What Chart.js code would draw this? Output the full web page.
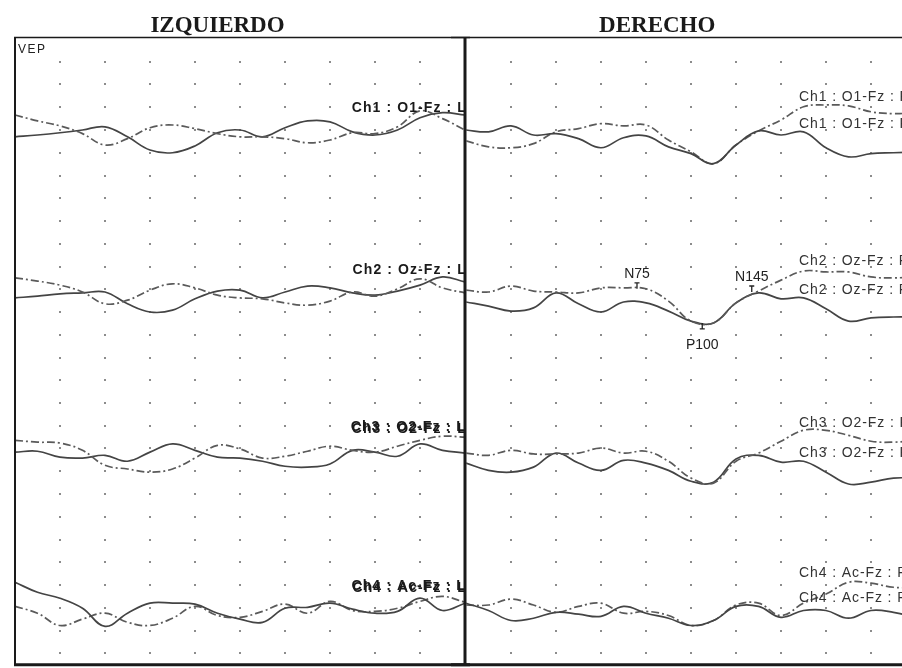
<!DOCTYPE html>
<html>
<head>
<meta charset="utf-8">
<script src="https://cdn.jsdelivr.net/npm/chart.js@4.4.1/dist/chart.umd.min.js"></script>
<style>
  html, body { margin: 0; padding: 0; background: #fff; overflow: hidden; width: 902px; height: 668px; }
  canvas { position: absolute; top: 0; }
  #izq { left: 0; }
  #der { left: 451px; }
</style>
</head>
<body>
<canvas id="izq" width="470" height="680"></canvas>
<canvas id="der" width="480" height="680"></canvas>
<script>
// tiempo en ms, amplitudes en uV (5 uV por division)
const tiempo = [0, 10, 20, 30, 40, 50, 60, 70, 80, 90, 100, 110, 120, 130, 140, 150, 160, 170, 180, 190, 200];

const izq1a = [3.3, 2.0, 0.9, -0.8, -3.3, -1.9, 0.5, 1.1, 0.3, -0.8, -1.5, -1.5, -1.9, -2.8, -2.2, -0.6, -0.8, 0.7, 4.2, 2.5, 0.0];
const izq1b = [-1.5, -1.1, -0.6, 0.0, 0.7, -1.5, -4.4, -5.0, -3.5, -0.6, 0.0, -1.5, 0.5, 2.0, 1.8, -0.4, -1.1, 0.0, 2.7, 3.8, 3.3];
const izq2a = [2.5, 1.8, 0.9, -0.6, -3.2, -2.4, -0.2, 1.2, 0.3, -1.3, -1.9, -2.1, -3.0, -3.5, -2.6, -0.6, -1.5, 0.1, 2.3, 0.3, -0.8];
const izq2b = [-1.9, -1.5, -1.0, -0.8, -0.6, -3.2, -5.0, -4.6, -2.1, -0.4, -0.2, -1.9, -0.6, 0.7, 0.3, -0.8, -1.3, -0.4, 0.9, 2.7, 1.6];
const izq3a = [1.8, 1.4, 1.2, -0.4, -3.7, -4.5, -5.2, -4.5, -2.1, 0.7, -0.1, -2.1, -1.7, -0.6, 0.5, -0.4, -0.8, 0.5, 1.8, 2.7, 2.5];
const izq3b = [-0.8, -0.6, -1.9, -2.1, -1.5, -2.8, -0.8, 1.0, -0.4, -1.9, -2.1, -2.8, -3.9, -4.1, -3.4, -0.4, -0.8, -1.7, 1.0, -0.4, -1.0];
const izq4a = [5.6, 3.4, 2.1, -0.1, -4.1, -1.2, 1.0, 1.0, 0.8, -1.2, -2.5, -3.2, -0.1, 0.1, 1.0, -0.3, -1.2, -0.8, 2.1, -0.6, 1.0];
const izq4b = [0.3, -1.2, -3.9, -2.5, -1.2, -3.2, -3.9, -2.3, 0.3, -1.7, -2.1, -0.8, 0.8, -1.2, 1.4, -0.6, -0.8, -0.1, 1.4, 2.5, 1.2];

const der1a = [0.0, -0.4, 0.9, -1.1, -0.8, -1.9, -3.9, -1.7, -1.3, -3.7, -5.2, -7.4, -3.3, -0.2, -1.1, -0.4, -3.9, -5.9, -5.2, -5.0, -4.8];
const der1b = [-2.4, -3.7, -3.9, -3.0, -0.4, 0.3, 1.4, 0.9, 1.1, -2.2, -4.8, -7.4, -3.3, -0.2, 2.2, 5.1, 5.5, 5.3, 4.0, 3.6, 3.8];
const der2a = [-0.2, -0.6, 0.7, -0.4, -0.6, -0.8, 0.3, 0.3, 0.1, -2.6, -7.0, -7.4, -3.0, -0.4, 2.0, 4.0, 3.8, 3.8, 2.7, 2.5, 2.7];
const der2b = [-2.8, -3.7, -4.8, -4.1, -0.8, -3.2, -5.0, -2.8, -3.0, -4.8, -7.0, -7.4, -3.0, -0.8, -2.1, -1.9, -4.3, -7.0, -6.3, -6.1, -6.1];
const der3a = [-1.0, -1.5, -0.4, -1.2, -1.2, -1.0, 0.1, -1.0, -0.6, -2.8, -6.5, -7.6, -2.8, -1.0, 1.6, 4.0, 4.0, 2.9, 1.6, 1.4, 1.8];
const der3b = [-3.2, -4.8, -5.2, -4.1, -1.0, -3.2, -4.8, -2.6, -3.2, -4.8, -7.2, -7.4, -2.3, -1.5, -3.0, -2.8, -5.2, -7.8, -7.4, -6.5, -6.5];
const der4a = [1.0, -0.6, -2.8, -2.3, -1.0, -1.4, -1.9, 0.3, -1.2, -2.3, -3.9, -2.8, 0.3, 0.3, -2.1, -0.6, -0.6, -2.3, -0.6, -1.0, -2.1];
const der4b = [0.6, 0.6, 1.9, 0.6, -1.0, 0.3, 1.0, -1.2, -0.8, -1.7, -3.9, -2.8, 0.6, 1.0, -1.7, 1.0, 3.0, 5.6, 5.4, 4.5, 4.5];

const canalesIzq = ['Ch1 : O1-Fz : L', 'Ch2 : Oz-Fz : L', 'Ch3 : O2-Fz : L', 'Ch4 : Ac-Fz : L'];
const canalesDer = ['Ch1 : O1-Fz : R', 'Ch2 : Oz-Fz : R', 'Ch3 : O2-Fz : R', 'Ch4 : Ac-Fz : R'];

const picos = ['N75', 'P100', 'N145'];
const latPicos = [76, 105, 127];
const ampPicos = [0.1, -7.4, -0.6];

const UV_DIV = 5;
const BASES = [24, 17, 10, 3];   // fila de cada canal (28 filas en total)

function traza(vals, canal, punteada) {
  return {
    data: vals.map((v, i) => ({ x: tiempo[i], y: BASES[canal] + v / UV_DIV })),
    borderColor: punteada ? '#5a5a5a' : '#444',
    borderWidth: 1.7,
    borderDash: punteada ? [8, 3, 2, 3] : [],
    pointRadius: 0,
    tension: 0.4,
    fill: false
  };
}

const rejilla = {
  id: 'rejilla',
  beforeDatasetsDraw(chart) {
    const { ctx, scales: { x, y } } = chart;
    ctx.save();
    ctx.fillStyle = '#8c8c8c';
    for (let t = 20; t < 200; t += 20) {
      for (let f = 1; f < 28; f++) {
        ctx.fillRect(Math.round(x.getPixelForValue(t)) - 1, Math.round(y.getPixelForValue(f)) - 1, 2, 2);
      }
    }
    ctx.restore();
  }
};

const marco = {
  id: 'marco',
  afterDraw(chart, args, o) {
    const { ctx, chartArea: a, scales: { x, y } } = chart;
    const w = chart.width;
    const abajo = y.getPixelForValue(0.5);
    ctx.save();
    ctx.fillStyle = '#1a1a1a';
    ctx.textBaseline = 'alphabetic';

    // titulo
    ctx.font = 'bold 23px "Liberation Serif", serif';
    ctx.textAlign = 'center';
    ctx.fillText(o.titulo, x.getPixelForValue(o.tituloT), 32);

    // etiquetas de canal
    o.etiquetas.forEach(e => {
      ctx.font = (e.negrita ? 'bold ' : '') + '14px "Liberation Sans", Arial, sans-serif';
      ctx.letterSpacing = e.negrita ? '1.1px' : '0.9px';
      ctx.textAlign = e.derecha ? 'right' : 'left';
      const px = e.derecha ? a.right + 2 : x.getPixelForValue(e.t);
      const py = y.getPixelForValue(e.fila);
      ctx.fillStyle = e.negrita ? '#1a1a1a' : '#333';
      ctx.fillText(e.texto, px, py);
      if (e.doble) ctx.fillText(e.texto, px - 1, py - 2);
    });
    ctx.letterSpacing = '0px';

    // picos
    (o.picos || []).forEach(p => {
      const px = x.getPixelForValue(p.t);
      const py = y.getPixelForValue(p.fila);
      ctx.strokeStyle = '#222';
      ctx.lineWidth = 1.3;
      ctx.font = '14px "Liberation Sans", Arial, sans-serif';
      ctx.textAlign = 'center';
      ctx.fillStyle = '#222';
      const s = p.positivo ? 1 : -1;
      ctx.beginPath();
      ctx.moveTo(px, py);
      ctx.lineTo(px, py + s * 6);
      ctx.moveTo(px - 2.5, py + s * 6);
      ctx.lineTo(px + 2.5, py + s * 6);
      ctx.stroke();
      ctx.fillText(p.texto, px, p.positivo ? py + 26 : py - 11);
    });

    // marco
    ctx.strokeStyle = '#1a1a1a';
    ctx.lineWidth = 1.6;
    ctx.beginPath();
    ctx.moveTo(o.izquierda ? a.left - 1 : 0, 37.5);
    ctx.lineTo(w, 37.5);
    ctx.stroke();
    ctx.lineWidth = 3;
    ctx.beginPath();
    ctx.moveTo(o.izquierda ? a.left - 1 : 0, abajo);
    ctx.lineTo(w, abajo);
    ctx.stroke();
    if (o.izquierda) {
      ctx.lineWidth = 2;
      ctx.beginPath();
      ctx.moveTo(a.left, 37);
      ctx.lineTo(a.left, abajo);
      ctx.stroke();
      ctx.lineWidth = 3;
      ctx.beginPath();
      ctx.moveTo(a.right, 37);
      ctx.lineTo(a.right, abajo);
      ctx.stroke();
      ctx.font = '12px "Liberation Sans", Arial, sans-serif';
      ctx.letterSpacing = '1.5px';
      ctx.textAlign = 'left';
      ctx.fillStyle = '#222';
      ctx.fillText('VEP', a.left + 3, 53);
      ctx.letterSpacing = '0px';
    }
    ctx.restore();
  }
};

function opciones(derecho, plug) {
  return {
    responsive: false,
    animation: false,
    layout: { padding: { left: 15, right: derecho, top: 39, bottom: 4 } },
    plugins: { legend: { display: false }, tooltip: { enabled: false }, marco: plug },
    scales: {
      x: { type: 'linear', min: 0, max: 200, display: false },
      y: { type: 'linear', min: 0, max: 28, display: false }
    }
  };
}

const offIzq = [0.8, 0.68, 0.68, 0.68];
const offDer = [[1.28, 0.1], [1.07, -0.21], [0.94, -0.38], [1.34, 0.24]];

new Chart(document.getElementById('izq'), {
  type: 'line',
  data: {
    datasets: [
      traza(izq1a, 0, true), traza(izq1b, 0, false),
      traza(izq2a, 1, true), traza(izq2b, 1, false),
      traza(izq3a, 2, true), traza(izq3b, 2, false),
      traza(izq4a, 3, false), traza(izq4b, 3, true)
    ]
  },
  options: opciones(5, {
    titulo: 'IZQUIERDO',
    tituloT: 90,
    izquierda: true,
    etiquetas: canalesIzq.map((c, i) => ({
      texto: c, derecha: true, negrita: true, doble: i >= 2, fila: BASES[i] + offIzq[i]
    }))
  }),
  plugins: [rejilla, marco]
});

const etiqDer = [];
canalesDer.forEach((c, i) => {
  offDer[i].forEach(f => etiqDer.push({ texto: c, t: 148, fila: BASES[i] + f }));
});

new Chart(document.getElementById('der'), {
  type: 'line',
  data: {
    datasets: [
      traza(der1a, 0, false), traza(der1b, 0, true),
      traza(der2a, 1, true), traza(der2b, 1, false),
      traza(der3a, 2, true), traza(der3b, 2, false),
      traza(der4a, 3, false), traza(der4b, 3, true)
    ]
  },
  options: opciones(15, {
    titulo: 'DERECHO',
    tituloT: 85,
    izquierda: false,
    etiquetas: etiqDer,
    picos: picos.map((p, i) => ({
      texto: p, t: latPicos[i], fila: BASES[1] + ampPicos[i] / UV_DIV, positivo: p[0] === 'P'
    }))
  }),
  plugins: [rejilla, marco]
});
</script>
</body>
</html>
